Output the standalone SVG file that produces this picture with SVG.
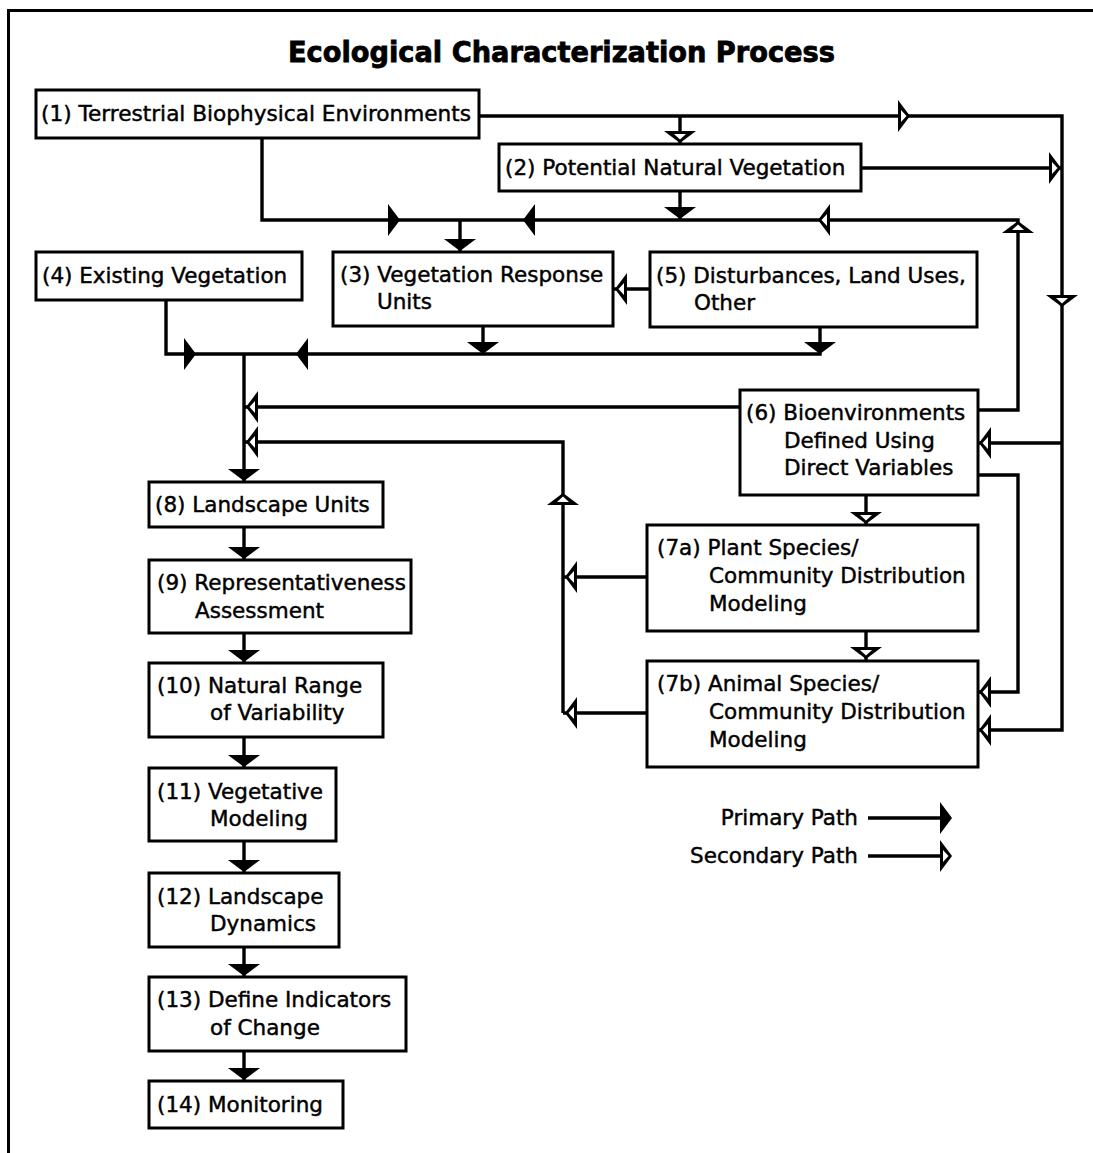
<svg xmlns="http://www.w3.org/2000/svg" xmlns:xlink="http://www.w3.org/1999/xlink" width="1093" height="1153" viewBox="0 0 1093 1153">
<style>
.box{fill:#fff;stroke:#000;stroke-width:3}
.t{font-family:"DejaVu Sans","Liberation Sans",sans-serif;font-size:21.5px;fill:#000;stroke:#000;stroke-width:0.45}
.title{font-family:"DejaVu Sans","Liberation Sans",sans-serif;font-size:28px;font-weight:bold;fill:#000;stroke:#000;stroke-width:0.8}
.ln{fill:none;stroke:#000;stroke-width:3.4;stroke-linejoin:miter}
</style>
<defs>
<polygon id="pa" points="0,0 -12,-16 -12,16" fill="#000"/>
<g id="sa"><polygon points="0,0 -12,-16 -12,16" fill="#000"/><polygon points="-3.5,0 -9,-6 -9,6" fill="#fff"/></g>
</defs>
<rect width="1093" height="1153" fill="#fff"/>
<path d="M8.5,1153 V10.5 H1093" fill="none" stroke="#000" stroke-width="3"/>
<text class="title" x="288" y="62" textLength="547" lengthAdjust="spacingAndGlyphs">Ecological Characterization Process</text>

<g id="connectors">
<path class="ln" d="M479,116 H1062 V730 H979"/>
<path class="ln" d="M680,116 V143"/>
<path class="ln" d="M861,168 H1062"/>
<path class="ln" d="M1062,443 H979"/>
<path class="ln" d="M262,138 V220 H1018 V410 H979"/>
<path class="ln" d="M680,191 V220"/>
<path class="ln" d="M460,220 V251"/>
<path class="ln" d="M650,289 H614"/>
<path class="ln" d="M166,300 V354 H820 V327"/>
<path class="ln" d="M483,326 V354"/>
<path class="ln" d="M244,354 V481"/>
<path class="ln" d="M740,407 H244"/>
<path class="ln" d="M563,713 V442 H244"/>
<path class="ln" d="M647,577 H563"/>
<path class="ln" d="M647,713 H563"/>
<path class="ln" d="M979,475 H1018 V692 H979"/>
<path class="ln" d="M866,495 V524"/>
<path class="ln" d="M866,631 V660"/>
<path class="ln" d="M244,527 V559 M244,633 V662 M244,737 V767 M244,841 V872 M244,947 V976 M244,1051 V1080"/>
<path class="ln" d="M868,818 H950 M868,856 H950"/>
<!-- primary arrowheads -->
<use xlink:href="#pa" transform="translate(400,220)"/>
<use xlink:href="#pa" transform="translate(523,220) rotate(180)"/>
<use xlink:href="#pa" transform="translate(680,219) rotate(90)"/>
<use xlink:href="#pa" transform="translate(460,251) rotate(90)"/>
<use xlink:href="#pa" transform="translate(196,354)"/>
<use xlink:href="#pa" transform="translate(296,354) rotate(180)"/>
<use xlink:href="#pa" transform="translate(483,354) rotate(90)"/>
<use xlink:href="#pa" transform="translate(820,354) rotate(90)"/>
<use xlink:href="#pa" transform="translate(244,481) rotate(90)"/>
<use xlink:href="#pa" transform="translate(244,559) rotate(90)"/>
<use xlink:href="#pa" transform="translate(244,662) rotate(90)"/>
<use xlink:href="#pa" transform="translate(244,767) rotate(90)"/>
<use xlink:href="#pa" transform="translate(244,872) rotate(90)"/>
<use xlink:href="#pa" transform="translate(244,976) rotate(90)"/>
<use xlink:href="#pa" transform="translate(244,1080) rotate(90)"/>
<use xlink:href="#pa" transform="translate(952,818)"/>
<!-- secondary arrowheads -->
<use xlink:href="#sa" transform="translate(910,116)"/>
<use xlink:href="#sa" transform="translate(680,143) rotate(90)"/>
<use xlink:href="#sa" transform="translate(1061,168)"/>
<use xlink:href="#sa" transform="translate(1018,221) rotate(-90)"/>
<use xlink:href="#sa" transform="translate(818,220) rotate(180)"/>
<use xlink:href="#sa" transform="translate(1062,307) rotate(90)"/>
<use xlink:href="#sa" transform="translate(615,289) rotate(180)"/>
<use xlink:href="#sa" transform="translate(979,443) rotate(180)"/>
<use xlink:href="#sa" transform="translate(246,407) rotate(180)"/>
<use xlink:href="#sa" transform="translate(246,442) rotate(180)"/>
<use xlink:href="#sa" transform="translate(563,493) rotate(-90)"/>
<use xlink:href="#sa" transform="translate(565,577) rotate(180)"/>
<use xlink:href="#sa" transform="translate(565,713) rotate(180)"/>
<use xlink:href="#sa" transform="translate(866,524) rotate(90)"/>
<use xlink:href="#sa" transform="translate(866,659) rotate(90)"/>
<use xlink:href="#sa" transform="translate(979,692) rotate(180)"/>
<use xlink:href="#sa" transform="translate(979,730) rotate(180)"/>
<use xlink:href="#sa" transform="translate(952,856)"/>
</g>

<g id="n1"><rect class="box" x="36" y="90" width="443" height="48"/><text class="t" x="41" y="121" textLength="430" lengthAdjust="spacingAndGlyphs">(1) Terrestrial Biophysical Environments</text></g>
<g id="n2"><rect class="box" x="499" y="144" width="362" height="47"/><text class="t" x="505" y="175">(2) Potential Natural Vegetation</text></g>
<g id="n3"><rect class="box" x="333" y="252" width="280" height="74"/><text class="t" x="340" y="282">(3) Vegetation Response</text><text class="t" x="377" y="309">Units</text></g>
<g id="n4"><rect class="box" x="36" y="252" width="266" height="48"/><text class="t" x="42" y="283">(4) Existing Vegetation</text></g>
<g id="n5"><rect class="box" x="650" y="252" width="327" height="75"/><text class="t" x="656" y="283">(5) Disturbances, Land Uses,</text><text class="t" x="694" y="310">Other</text></g>
<g id="n6"><rect class="box" x="740" y="390" width="238" height="105"/><text class="t" x="746" y="420">(6) Bioenvironments</text><text class="t" x="784" y="448">Defined Using</text><text class="t" x="784" y="475">Direct Variables</text></g>
<g id="n7a"><rect class="box" x="647" y="525" width="331" height="106"/><text class="t" x="657" y="555">(7a) Plant Species/</text><text class="t" x="709" y="583">Community Distribution</text><text class="t" x="709" y="611">Modeling</text></g>
<g id="n7b"><rect class="box" x="647" y="661" width="331" height="106"/><text class="t" x="657" y="691">(7b) Animal Species/</text><text class="t" x="709" y="719">Community Distribution</text><text class="t" x="709" y="747">Modeling</text></g>
<g id="n8"><rect class="box" x="149" y="482" width="234" height="45"/><text class="t" x="155" y="512">(8) Landscape Units</text></g>
<g id="n9"><rect class="box" x="149" y="560" width="262" height="73"/><text class="t" x="157" y="590">(9) Representativeness</text><text class="t" x="195" y="618">Assessment</text></g>
<g id="n10"><rect class="box" x="149" y="663" width="234" height="74"/><text class="t" x="157" y="693">(10) Natural Range</text><text class="t" x="210" y="720">of Variability</text></g>
<g id="n11"><rect class="box" x="149" y="768" width="187" height="73"/><text class="t" x="157" y="799">(11) Vegetative</text><text class="t" x="210" y="826">Modeling</text></g>
<g id="n12"><rect class="box" x="149" y="873" width="190" height="74"/><text class="t" x="157" y="904">(12) Landscape</text><text class="t" x="210" y="931">Dynamics</text></g>
<g id="n13"><rect class="box" x="149" y="977" width="257" height="74"/><text class="t" x="157" y="1007">(13) Define Indicators</text><text class="t" x="210" y="1035">of Change</text></g>
<g id="n14"><rect class="box" x="149" y="1081" width="194" height="47"/><text class="t" x="157" y="1112">(14) Monitoring</text></g>

<g id="legend">
<text class="t" x="858" y="825" text-anchor="end">Primary Path</text>
<text class="t" x="858" y="863" text-anchor="end">Secondary Path</text>
</g>
</svg>
